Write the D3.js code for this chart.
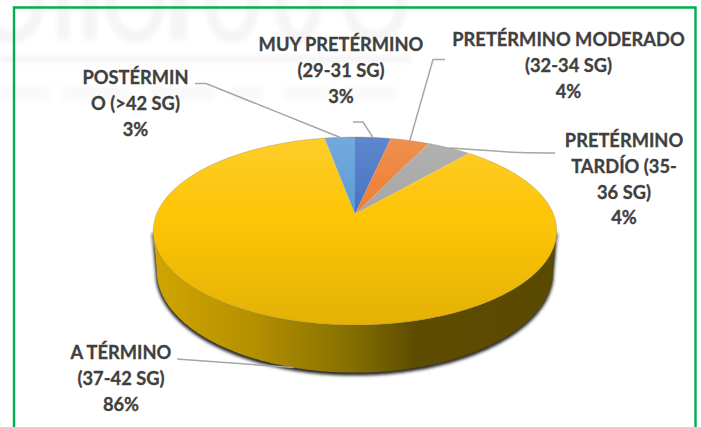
<!DOCTYPE html>
<html><head><meta charset="utf-8">
<script src="https://cdn.jsdelivr.net/npm/d3@7"></script>
<style>html,body{margin:0;padding:0;background:#fff}svg{display:block}</style>
</head><body><svg id="c" width="701" height="427"></svg>
<script>
const categories = ["MUY PRETÉRMINO (29-31 SG)", "PRETÉRMINO MODERADO (32-34 SG)", "PRETÉRMINO TARDÍO (35-36 SG)", "A TÉRMINO (37-42 SG)", "POSTÉRMINO (>42 SG)"];
const values = [3.4, 3.7, 4.2, 85.8, 2.9];
const percentLabels = ["3%", "4%", "4%", "86%", "3%"];
const labelLines = [
  ["MUY PRETÉRMINO", "(29-31 SG)"],
  ["PRETÉRMINO MODERADO", "(32-34 SG)"],
  ["PRETÉRMINO", "TARDÍO (35-", "36 SG)"],
  ["A TÉRMINO", "(37-42 SG)"],
  ["POSTÉRMIN", "O (>42 SG)"]
];
const colors = ["#4472c4", "#ed7d31", "#a5a5a5", "#fdc506", "#5b9bd5"];

// layout, separate from data
const W = 701, H = 427;
const cx = 355, cy = 214, Rx = 198.4, Ry = 90.9, persp = 0.181, depth = 39, baseShrink = 0.982;
const labelPos = [
  {x: 341, y: 51, gap: 26.2},
  {x: 568.5, y: 46, gap: 26},
  {x: 624, y: 147, gap: 25.8},
  {x: 121, y: 359, gap: 26},
  {x: 135.5, y: 84, gap: 26}
];
const leaders = [
  {from: [353, 122], elbow: [363, 122]},
  {from: [445, 59.5], elbow: [433, 59.5]},
  {from: [555, 153], elbow: [510, 152.5], curve: true},
  {from: [177, 359], elbow: [180, 359.2], side: true},
  {from: [195, 83.5], elbow: [206, 83.5]}
];
// faint background mark: blurred strokes only, nothing in it is legible in the reference
const wmRings = [[12, 5, 26, 32], [135, 5, 24, 32], [232, 5, 21, 32], [298, 5, 17, 32], [375, 5, 26, 32]];
const wmStems = [[57, 70], [83, 97], [170, 187]];
const wmBlobs = [[0, 50], [62, 130], [150, 215], [232, 262], [285, 330], [345, 395]];

const svg = d3.select("#c");
const defs = svg.append("defs");

function project(a, base) {
  const c = Math.cos(a), s = Math.sin(a), f = 1 / (1 + persp * c);
  return base
    ? [cx + Rx * baseShrink * s * f, cy - Ry * c * f + depth * f]
    : [cx + Rx * s * f, cy - Ry * c * f];
}
const arcPts = (a0, a1, base) => {
  const n = Math.max(2, Math.ceil(Math.abs(a1 - a0) / 0.01));
  return d3.range(n + 1).map(i => project(a0 + (a1 - a0) * i / n, base));
};
const line = d3.line();

// gradients
const topGrad = defs.append("linearGradient").attr("id", "topShade")
  .attr("gradientUnits", "userSpaceOnUse").attr("x1", 0).attr("x2", 0).attr("y1", 137).attr("y2", 325);
[[0, "#fff", .15], [.42, "#fff", 0], [.45, "#000", 0], [1, "#000", .1]].forEach(d =>
  topGrad.append("stop").attr("offset", d[0]).attr("stop-color", d[1]).attr("stop-opacity", d[2]));
const sideGrad = defs.append("linearGradient").attr("id", "sideShade")
  .attr("gradientUnits", "userSpaceOnUse").attr("x1", 155).attr("x2", 556).attr("y1", 0).attr("y2", 0);
[[0, "#d0a500"], [.24, "#b69000"], [.485, "#857000"], [.65, "#5e4c00"], [1, "#5a4900"]].forEach(d =>
  sideGrad.append("stop").attr("offset", d[0]).attr("stop-color", d[1]));
defs.append("filter").attr("id", "blur").attr("x", "-10%").attr("y", "-10%").attr("width", "120%").attr("height", "120%")
  .append("feGaussianBlur").attr("stdDeviation", 1.4);
defs.append("filter").attr("id", "wm").attr("filterUnits", "userSpaceOnUse").attr("x", -20).attr("y", -40).attr("width", 460).attr("height", 170)
  .append("feGaussianBlur").attr("stdDeviation", 2.2);

// faint background watermark
const wm = svg.append("g").attr("filter", "url(#wm)");
wm.selectAll("ellipse").data(wmRings).join("ellipse")
  .attr("cx", d => d[0]).attr("cy", d => d[1]).attr("rx", d => d[2]).attr("ry", d => d[3])
  .attr("fill", "none").attr("stroke", "#f5f5f5").attr("stroke-width", 12);
wm.selectAll("rect.stem").data(wmStems).join("rect").attr("class", "stem")
  .attr("x", d => d[0]).attr("width", d => d[1] - d[0]).attr("y", -5).attr("height", 45).attr("fill", "#f5f5f5");
wm.append("rect").attr("x", 0).attr("y", 55).attr("width", 412).attr("height", 8).attr("fill", "#f6f6f6");
wm.selectAll("rect.blob").data(wmBlobs).join("rect").attr("class", "blob")
  .attr("x", d => d[0]).attr("width", d => d[1] - d[0]).attr("y", 86).attr("height", 15).attr("fill", "#f9f9f9");

// frame
svg.append("path").attr("d", line([[14, H + 2], [14, 7.5], [695.5, 7.5], [695.5, H + 2]]))
  .attr("fill", "none").attr("stroke", "#00b050").attr("stroke-width", 2.4);

// pie angles
const arcs = d3.pie().sort(null)(values);
const silhouette = Math.acos(-persp);
const sideA0 = silhouette, sideA1 = 2 * Math.PI - silhouette;

const sidePath = line([...arcPts(sideA0, sideA1, false), ...arcPts(sideA1, sideA0, true)]) + "Z";
svg.append("path").attr("d", sidePath)
  .attr("fill", "#2a2a2a").attr("stroke", "#2a2a2a").attr("stroke-width", 2).attr("filter", "url(#blur)").attr("transform", "translate(-0.3,2)");
svg.append("path").attr("d", sidePath).attr("fill", "url(#sideShade)");

// top face
svg.selectAll("path.slice").data(arcs).join("path").attr("class", "slice")
  .attr("d", d => line([[cx, cy], ...arcPts(d.startAngle, d.endAngle, false)]) + "Z")
  .attr("fill", (d, i) => colors[i]);
svg.append("path").attr("d", line(arcPts(0, 2 * Math.PI, false)) + "Z").attr("fill", "url(#topShade)")
  .attr("stroke", "#8a7a50").attr("stroke-opacity", .5).attr("stroke-width", .6);

// leader lines
arcs.forEach((d, i) => {
  const mid = (d.startAngle + d.endAngle) / 2, l = leaders[i];
  const tip = project(mid, !!l.side);
  const gen = l.curve ? d3.line().curve(d3.curveBasis) : line;
  const pts = l.curve ? [l.from, l.elbow, [480, 150], tip] : [l.from, l.elbow, tip];
  svg.append("path").attr("d", gen(pts)).attr("fill", "none")
    .attr("stroke", "#a6a6a6").attr("stroke-width", 1.5);
});

// labels
const lab = svg.append("g").attr("font-family", "Lato").attr("font-weight", 700)
  .attr("font-size", 18.3).attr("fill", "#404040").attr("stroke", "#404040").attr("stroke-width", .3).attr("text-anchor", "middle");
labelLines.forEach((lines, i) => {
  [...lines, percentLabels[i]].forEach((t, j) => {
    lab.append("text").attr("x", labelPos[i].x).attr("y", labelPos[i].y + j * labelPos[i].gap).text(t);
  });
});
</script></body></html>
